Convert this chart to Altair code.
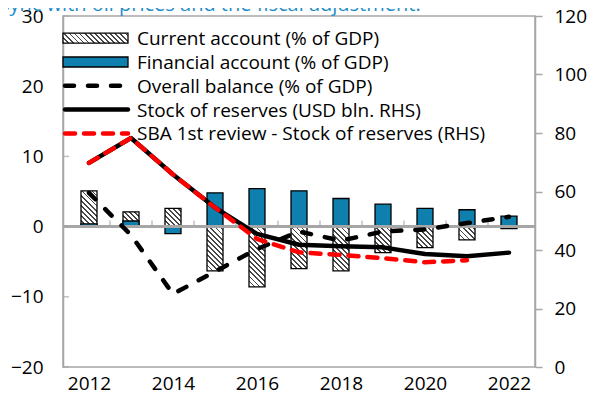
import math
import altair as alt
import pandas as pd

# ---------------- data ----------------
years = [2012, 2013, 2014, 2015, 2016, 2017, 2018, 2019, 2020, 2021, 2022]
current_account = [5.1, 2.1, 2.6, -6.3, -8.6, -6.0, -6.3, -3.7, -3.0, -1.9, -0.3]
financial_account = [0.4, 0.8, -1.0, 4.8, 5.4, 5.1, 4.0, 3.2, 2.6, 2.4, 1.5]
overall_balance = [4.8, -1.2, -9.6, -6.4, -3.2, -0.7, -2.0, -0.7, -0.4, 0.5, 1.4]
reserves = [69.8, 78.3, 65.8, 54.5, 45.5, 41.8, 41.3, 40.9, 38.6, 37.9, 39.1]
sba_reserves = [69.8, 78.3, 65.8, 54.5, 43.8, 39.2, 38.3, 37.2, 35.8, 36.5, None]

legend_labels = [
    "Current account (% of GDP)",
    "Financial account (% of GDP)",
    "Overall balance (% of GDP)",
    "Stock of reserves (USD bln. RHS)",
    "SBA 1st review - Stock of reserves (RHS)",
]
left_ticks = [-20, -10, 0, 10, 20, 30]
right_ticks = [0, 20, 40, 60, 80, 100, 120]
x_labels = [2012, 2014, 2016, 2018, 2020, 2022]
subtitle = "sync with oil prices and the fiscal adjustment."

# ---------------- layout / style ----------------
W, H = 472, 351
Y_MIN, Y_MAX = -20, 30
R_MIN, R_MAX = 0, 120
PX_PER_UNIT = H / (Y_MAX - Y_MIN)
BAR_W = 16
FONT = "Open Sans"
GREY = "#a6a6a6"
BLUE = "#0f7fad"
RED = "#ff0000"
HATCH_DARK = "#474747"
TITLE_BLUE = "#1f8dc8"
FS = 19


def hatch_fill(w, h, period=3.6, dark_frac=0.34):
    """Diagonal (\\) stripes as a hard-stop linear gradient over the bar's box."""
    h = max(h, 1.0)
    r = h / w
    s = (1 + r) / (1 + r * r)
    length = (w + h) / math.sqrt(2)
    stops = []
    k = 0
    while k * period < length:
        a = k * period / length
        b = min((k * period + dark_frac * period) / length, 1.0)
        c = min((k + 1) * period / length, 1.0)
        stops += [
            {"offset": round(a, 5), "color": HATCH_DARK},
            {"offset": round(b, 5), "color": HATCH_DARK},
            {"offset": round(b, 5), "color": "#ffffff"},
            {"offset": round(c, 5), "color": "#ffffff"},
        ]
        k += 1
    return alt.LinearGradient(
        gradient="linear", x1=0, y1=1, x2=round(s, 5), y2=round(1 - s * r, 5), stops=stops
    )


df = pd.DataFrame({
    "year": years,
    "ca": current_account,
    "fa": financial_account,
    "ob": overall_balance,
    "res": reserves,
    "sba": sba_reserves,
    "zero": [0] * len(years),
})
bounds_df = pd.DataFrame({"b": [y + 0.5 for y in years[:-1]], "zero": 0})
lt_df = pd.DataFrame({"v": left_ticks})

x_scale = alt.Scale(domain=[years[0] - 0.5, years[-1] + 0.5], nice=False, zero=False)
x_axis = alt.Axis(values=x_labels, format="d", ticks=False, tickSize=0, domain=False,
                  grid=False, labelPadding=7, labelFontSize=FS, labelColor="black",
                  labelFlush=False, title=None)
left_scale = alt.Scale(domain=[Y_MIN, Y_MAX], nice=False, zero=False)
left_axis = alt.Axis(orient="left", values=left_ticks, ticks=False, tickSize=0,
                     labelPadding=20, domainColor=GREY, domainWidth=1.5, grid=False,
                     labelFontSize=FS, labelColor="black", title=None)
right_scale = alt.Scale(domain=[R_MIN, R_MAX], nice=False, zero=False)
right_axis = alt.Axis(orient="right", values=right_ticks, ticks=True, tickSize=7,
                      tickColor=GREY, tickWidth=1.5, labelPadding=12, domainColor=GREY,
                      domainWidth=1.5, grid=False, labelFontSize=FS,
                      labelColor="black", title=None)


def X(field):
    return alt.X(field, type="quantitative", scale=x_scale, axis=x_axis)


def YL(field):
    return alt.Y(field, type="quantitative", scale=left_scale, axis=left_axis)


def YR(field):
    return alt.Y(field, type="quantitative", scale=right_scale, axis=right_axis)


base = alt.Chart(df)

in_ticks = alt.Chart(lt_df).mark_tick(
    orient="horizontal", size=6, thickness=1.5, xOffset=3, color=GREY
).encode(x=alt.value(0), y=YL("v"))

ca_layers = []
for yr, v in zip(years, current_account):
    ca_layers.append(
        base.transform_filter(alt.datum.year == yr)
        .mark_bar(width=BAR_W, fill=hatch_fill(BAR_W, abs(v) * PX_PER_UNIT),
                  stroke="black", strokeWidth=1.3)
        .encode(x=X("year"), y=YL("ca"))
    )

fa_bars = base.mark_bar(width=BAR_W, fill=BLUE, stroke="black", strokeWidth=1.3).encode(
    x=X("year"), y=YL("fa")
)
zero_line = base.mark_rule(color=GREY, strokeWidth=2).encode(y=YL("zero"))
cat_ticks = alt.Chart(bounds_df).mark_tick(
    orient="vertical", size=6, thickness=1.5, yOffset=-3, color=GREY
).encode(x=X("b"), y=YL("zero"))
ob_line = base.mark_line(color="black", strokeWidth=4.5, strokeDash=[9, 14],
                         strokeCap="round").encode(x=X("year"), y=YL("ob"))

left_group = alt.layer(in_ticks, *ca_layers, fa_bars, zero_line, cat_ticks, ob_line)

res_line = base.mark_line(color="black", strokeWidth=4.5, strokeCap="round",
                          strokeJoin="round").encode(x=X("year"), y=YR("res"))
sba_line = base.mark_line(color=RED, strokeWidth=4.5, strokeDash=[10, 9],
                          strokeCap="round").encode(x=X("year"), y=YR("sba"))
right_group = alt.layer(res_line, sba_line)

# ---------------- manual legend ----------------
ROW0, ROW_STEP = 23.2, 23.8
SYM_X0, SYM_X1, TEXT_X = 0, 65, 74
legend_layers = []
for i, lab in enumerate(legend_labels):
    yc = ROW0 + ROW_STEP * i
    ldf = pd.DataFrame({"label": [lab]})
    legend_layers.append(
        alt.Chart(ldf).mark_text(align="left", baseline="middle", fontSize=FS,
                                 color="black").encode(
            x=alt.value(TEXT_X), y=alt.value(yc), text="label:N")
    )
    if i == 0:
        sym = alt.Chart(ldf).mark_rect(fill=hatch_fill(SYM_X1 - SYM_X0, 10), stroke="black",
                                       strokeWidth=1.3)
        sym = sym.encode(x=alt.value(SYM_X0), x2=alt.value(SYM_X1),
                         y=alt.value(yc - 6), y2=alt.value(yc + 4))
    elif i == 1:
        sym = alt.Chart(ldf).mark_rect(fill=BLUE, stroke="black", strokeWidth=1.3)
        sym = sym.encode(x=alt.value(SYM_X0), x2=alt.value(SYM_X1),
                         y=alt.value(yc - 6), y2=alt.value(yc + 4))
    elif i == 2:
        sym = alt.Chart(ldf).mark_rule(color="black", strokeWidth=4.5, strokeDash=[9, 14],
                                       strokeCap="round")
        sym = sym.encode(x=alt.value(SYM_X0 + 2), x2=alt.value(SYM_X1),
                         y=alt.value(yc - 1))
    elif i == 3:
        sym = alt.Chart(ldf).mark_rule(color="black", strokeWidth=4.5, strokeCap="round")
        sym = sym.encode(x=alt.value(SYM_X0 + 2), x2=alt.value(SYM_X1),
                         y=alt.value(yc - 1))
    else:
        sym = alt.Chart(ldf).mark_rule(color=RED, strokeWidth=4.5, strokeDash=[10, 9],
                                       strokeCap="round")
        sym = sym.encode(x=alt.value(SYM_X0 + 2), x2=alt.value(SYM_X1),
                         y=alt.value(yc - 1))
    legend_layers.append(sym)

title_layer = alt.Chart(pd.DataFrame({"t": [subtitle]})).mark_text(
    align="left", baseline="alphabetic", fontSize=FS + 1, color=TITLE_BLUE
).encode(x=alt.value(-63), y=alt.value(-5), text="t:N")

chart = (
    alt.layer(left_group, right_group, *legend_layers, title_layer)
    .resolve_scale(y="independent")
    .properties(
        width=W,
        height=H,
        autosize=alt.AutoSizeParams(type="none"),
        padding={"left": 55, "top": 8, "right": 53, "bottom": 33},
    )
    .configure(font=FONT)
    .configure_view(stroke=GREY, strokeWidth=1.5)
)

chart.save("out.html", embed_options={"renderer": "svg", "actions": False})
